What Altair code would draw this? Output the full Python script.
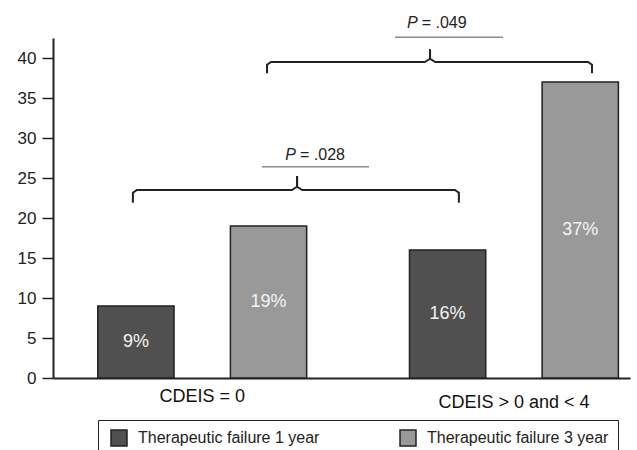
import altair as alt
import pandas as pd

# Therapeutic failure by CDEIS group
groups = ["CDEIS = 0", "CDEIS > 0 and < 4"]
series = ["Therapeutic failure 1 year", "Therapeutic failure 3 year"]
failure_1y = [9, 16]
failure_3y = [19, 37]
series_colors = ["#505050", "#999999"]

# layout of the bars along a continuous x scale
group_centres = [2.25, 6.95]
bar_offsets = [-1.0, 1.0]
bar_half = 0.575
group_label_y = [-2.35, -3.1]
y_ticks = [0, 5, 10, 15, 20, 25, 30, 35, 40]

# significance braces
p_values = [".028", ".049"]
brace_left = [1.205, 3.227]
brace_right = [6.12, 8.127]
brace_mid = [3.68, 5.685]
brace_level = [23.5, 39.5]
brace_tip = [21.9, 38.1]
brace_top = [25.25, 41.1]
p_line_left = [3.15, 5.157]
p_line_right = [4.765, 6.785]
p_line_y = [26.4, 42.6]
p_text_x = [3.664, 5.499]
p_text_y = [27.9, 44.35]

X_DOMAIN = [0, 8.7]
Y_DOMAIN = [0, 42.5]
FONT = "Liberation Sans"
INK = "#222222"

rows = []
for gi, g in enumerate(groups):
    for si, vals in enumerate([failure_1y, failure_3y]):
        c = group_centres[gi] + bar_offsets[si]
        v = vals[gi]
        rows.append(dict(group=g, series=series[si], x0=c - bar_half, x1=c + bar_half,
                         xc=c, value=v, base=0, mid=v / 2, label=f"{v}%"))
bars_df = pd.DataFrame(rows)

brace_rows = []
for i in range(len(p_values)):
    dx, dy = 0.06, 0.35
    left_path = [(brace_left[i], brace_tip[i]), (brace_left[i], brace_level[i] - dy),
                 (brace_left[i] + dx, brace_level[i]), (brace_mid[i] - 0.08, brace_level[i]),
                 (brace_mid[i], brace_level[i] + 0.4), (brace_mid[i], brace_top[i])]
    right_path = [(brace_right[i], brace_tip[i]), (brace_right[i], brace_level[i] - dy),
                  (brace_right[i] - dx, brace_level[i]), (brace_mid[i] + 0.08, brace_level[i]),
                  (brace_mid[i], brace_level[i] + 0.4), (brace_mid[i], brace_top[i])]
    for side, path in (("l", left_path), ("r", right_path)):
        for k, (px, py) in enumerate(path):
            brace_rows.append(dict(part=f"{i}{side}", step=k, x=px, y=py))
brace_df = pd.DataFrame(brace_rows)

pline_df = pd.DataFrame(dict(x0=p_line_left, x1=p_line_right, y=p_line_y))
ptext_df = pd.DataFrame(dict(x=p_text_x, y=p_text_y, p=["P"] * len(p_values),
                             val=[f"= {p}" for p in p_values]))
glabel_df = pd.DataFrame(dict(x=group_centres, y=group_label_y, text=groups))

xs = alt.Scale(domain=X_DOMAIN, nice=False, zero=False)
ys = alt.Scale(domain=Y_DOMAIN, nice=False, zero=False)

# one shared axis definition per direction, reused by every layer
x_axis = alt.Axis(labels=False, ticks=False, grid=False, title=None,
                  domainColor=INK, domainWidth=2)
y_axis = alt.Axis(values=y_ticks, grid=False, title=None, domainColor=INK, domainWidth=2,
                  tickColor=INK, tickWidth=1.5, tickSize=11, labelPadding=6,
                  labelFontSize=17, labelColor=INK, labelFont=FONT)


def X(field):
    return alt.X(field, scale=xs, axis=x_axis)


def Y(field):
    return alt.Y(field, scale=ys, axis=y_axis)


bars = alt.Chart(bars_df).mark_rect(stroke=INK, strokeWidth=1.5).encode(
    x=X("x0:Q"),
    x2="x1:Q",
    y=Y("value:Q"),
    y2="base:Q",
    color=alt.Color("series:N", scale=alt.Scale(domain=series, range=series_colors),
                    legend=alt.Legend(orient="none", legendX=45, legendY=382, direction="horizontal",
                                      columns=2, columnPadding=76, padding=9, strokeColor=INK,
                                      symbolType="square", symbolSize=256, symbolStrokeColor=INK,
                                      symbolStrokeWidth=1.5, symbolOffset=3, labelFontSize=16,
                                      labelFont=FONT, labelColor=INK, labelLimit=300,
                                      labelOffset=10, title=None)),
)

bar_labels = alt.Chart(bars_df).mark_text(font=FONT, fontSize=18, color="#f4f4f4",
                                          baseline="middle", align="center").encode(
    x=X("xc:Q"),
    y=Y("mid:Q"),
    text="label:N",
)

group_labels = alt.Chart(glabel_df).mark_text(font=FONT, fontSize=18, color="#111111",
                                              baseline="middle", align="center").encode(
    x=X("x:Q"),
    y=Y("y:Q"),
    text="text:N",
)

braces = alt.Chart(brace_df).mark_line(color=INK, strokeWidth=2).encode(
    x=X("x:Q"),
    y=Y("y:Q"),
    detail="part:N",
    order="step:Q",
)

p_lines = alt.Chart(pline_df).mark_rule(color="#8a8a8a", strokeWidth=1.5).encode(
    x=X("x0:Q"),
    x2="x1:Q",
    y=Y("y:Q"),
)

p_italic = alt.Chart(ptext_df).mark_text(font=FONT, fontSize=16, fontStyle="italic", color=INK,
                                         baseline="middle", align="right").encode(
    x=X("x:Q"),
    y=Y("y:Q"),
    text="p:N",
)

p_rest = alt.Chart(ptext_df).mark_text(font=FONT, fontSize=16, color=INK, dx=4,
                                       baseline="middle", align="left").encode(
    x=X("x:Q"),
    y=Y("y:Q"),
    text="val:N",
)

chart = alt.layer(bars, bar_labels, group_labels, braces, p_lines, p_italic, p_rest).properties(
    width=577,
    height=340,
    autosize=alt.AutoSizeParams(type="none"),
    padding={"left": 53, "top": 38, "right": 7, "bottom": 72},
    background="white",
).configure_view(stroke=None)

chart.save("out.html", embed_options={"renderer": "svg", "actions": False})
